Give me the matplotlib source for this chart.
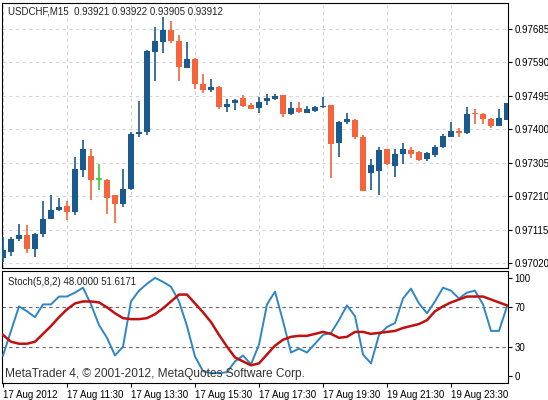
import matplotlib
matplotlib.use("Agg")
import matplotlib.pyplot as plt
import numpy as np

plt.rcParams['font.family'] = ['Liberation Sans', 'DejaVu Sans']

# prices in points above 0.97000 (1 point = 0.00001)
opens  = [34,51,88,100,60,102,145,171,182,165,284,324,259,256,213,188,230,386,392,619,648,682,651,574,599,528,511,520,463,474,489,469,460,480,486,497,443,460,446,452,463,469,361,421,426,378,276,281,344,296,330,341,335,315,327,350,378,395,389,446,443,429,409,426]
highs  = [94,94,131,128,105,196,213,205,196,321,369,344,301,259,213,287,392,480,625,690,719,707,668,648,602,557,543,523,486,486,497,474,492,500,500,497,477,477,466,466,492,469,423,446,429,384,315,350,344,344,361,350,338,335,355,386,421,403,463,457,446,432,457,474]
lows   = [23,40,83,48,37,94,145,168,142,156,264,199,227,159,134,179,227,378,384,537,616,645,537,574,514,503,506,457,449,455,463,457,446,469,483,435,440,446,446,449,460,261,321,415,372,225,227,213,298,264,301,318,310,310,321,347,378,378,386,415,415,403,409,426]
closes = [57,88,100,60,102,145,171,179,165,287,344,256,259,205,188,230,386,392,622,651,682,651,577,599,528,511,520,463,472,483,466,457,477,489,494,443,460,449,457,463,466,358,421,429,378,225,298,341,301,330,344,330,313,332,350,381,395,389,443,443,429,409,432,474]
stoch_k = [21,46,71,66,60,73,73,81,81,85,90,73,52,39,21,30,76,87,94,100,96,91,76,51,20,5,3,3,4,15,21,12,32,73,86,56,24,28,24,33,42,44,57,72,61,22,13,42,50,54,79,89,74,64,76,90,87,79,85,87,73,46,46,71]
stoch_d = [42,35,33,33,35,43,51,60,68,74,76,76,75,70,64,59,58,58,59,63,69,76,83,83,74,65,55,42,30,19,15,11,13,22,31,37,40,41,41,43,45,43,39,40,45,45,43,44,45,46,49,51,53,57,66,71,75,78,81,81,81,78,75,72]
price_ticks = [0.97020,0.97115,0.97210,0.97305,0.97400,0.97495,0.97590,0.97685]
stoch_ticks = [0,30,70,100]
time_labels = ["17 Aug 2012","17 Aug 11:30","17 Aug 13:30","17 Aug 15:30","17 Aug 17:30","17 Aug 19:30","19 Aug 21:30","19 Aug 23:30"]

W, H = 548, 400
fig = plt.figure(figsize=(W/100, H/100), dpi=100)
ax = fig.add_axes([2/W, 1-268/H, 506/W, 265/H])
ax2 = fig.add_axes([2/W, 1-383/H, 506/W, 112/H])

BLUE = '#1b5a8e'; ORANGE = '#f5643a'; GREEN = '#33cc33'
FS = 7
n = len(opens)
x = np.arange(n)
o = 0.97 + np.array(opens)/1e5; h = 0.97 + np.array(highs)/1e5
l = 0.97 + np.array(lows)/1e5; c = 0.97 + np.array(closes)/1e5
for i in range(n):
    if c[i] > o[i]: col = BLUE
    elif c[i] < o[i]: col = ORANGE
    else: col = GREEN
    ax.vlines(x[i], l[i], h[i], color=col, lw=1.2, zorder=3)
    if c[i] == o[i]:
        ax.hlines(c[i], x[i]-0.35, x[i]+0.35, color=col, lw=1.2, zorder=3)
    else:
        ax.bar(x[i], abs(c[i]-o[i]), 0.65, bottom=min(o[i], c[i]), color=col, zorder=3, lw=0)

xmin, xmax = -1/8, 505/8
ax.set_xlim(xmin, xmax)
ax.set_ylim(0.97006, 0.97759)
ax.yaxis.tick_right()
ax.set_yticks(price_ticks)
ax.set_yticklabels([f"{t:.5f}" for t in price_ticks], fontsize=FS)
tick_pos = np.arange(0, n, 8)
ax.set_xticks(tick_pos)
ax.tick_params(axis='x', length=0, labelbottom=False)
ax.tick_params(axis='y', length=3, pad=1.5)
ax.grid(True, color='#d6d6d6', ls=(0, (3, 3)), lw=0.8)
ax.text(0.012, 0.985, "USDCHF,M15  0.93921 0.93922 0.93905 0.93912", transform=ax.transAxes,
        fontsize=FS, va='top', ha='left', color='#222222')

ax2.plot(x, stoch_k, color='#2f86c4', lw=1.4, zorder=3)
ax2.plot(x, stoch_d, color='#c01010', lw=1.8, zorder=4)
ax2.axhline(70, color='#666666', ls=(0, (3, 3)), lw=0.8)
ax2.axhline(30, color='#666666', ls=(0, (3, 3)), lw=0.8)
ax2.set_xlim(xmin, xmax)
ax2.set_ylim(-7, 107)
ax2.yaxis.tick_right()
ax2.set_yticks(stoch_ticks)
ax2.set_yticklabels([str(t) for t in stoch_ticks], fontsize=FS)
ax2.tick_params(axis='y', length=3, pad=1.5)
ax2.set_xticks(tick_pos)
ax2.set_xticklabels(time_labels, fontsize=FS, ha='left')
ax2.tick_params(axis='x', length=3, pad=2)
ax2.text(0.012, 0.95, "Stoch(5,8,2) 48.0000 51.6171", transform=ax2.transAxes,
         fontsize=FS, va='top', ha='left', color='#222222')
ax2.text(0.005, 0.03, "MetaTrader 4, © 2001-2012, MetaQuotes Software Corp.", transform=ax2.transAxes,
         fontsize=8.6, va='bottom', ha='left', color='#333333', zorder=5)

fig.savefig("out.png", dpi=100)
